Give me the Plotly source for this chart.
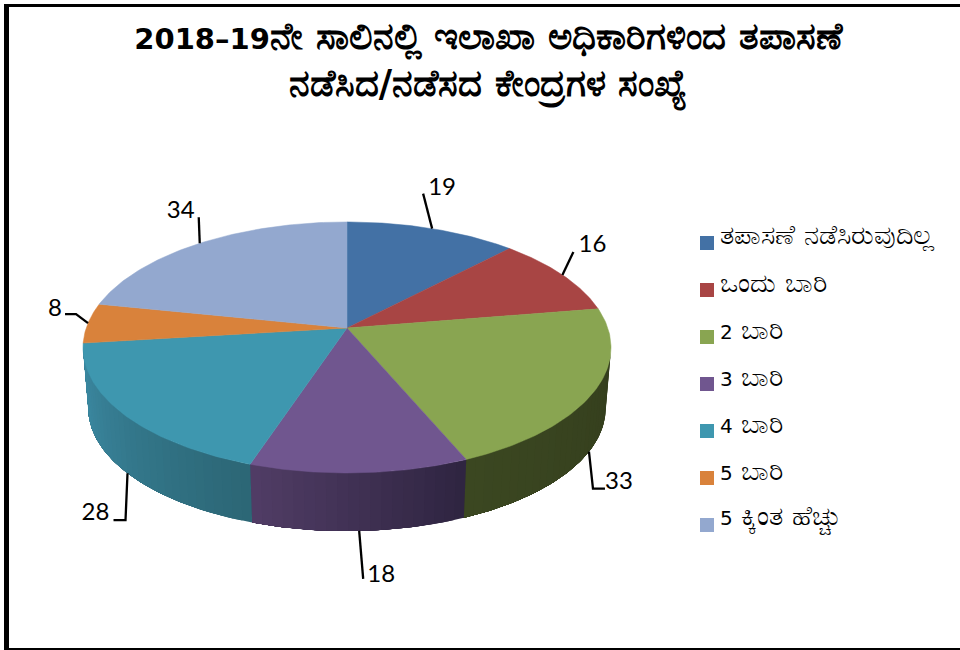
import re
import numpy as np
import plotly.graph_objects as go

# ---- data ----
categories = ["ತಪಾಸಣೆ ನಡೆಸಿರುವುದಿಲ್ಲ", "ಒಂದು ಬಾರಿ", "2 ಬಾರಿ", "3 ಬಾರಿ", "4 ಬಾರಿ", "5 ಬಾರಿ", "5 ಕ್ಕಿಂತ ಹೆಚ್ಚು"]
values = [19, 16, 33, 18, 28, 8, 34]
title_lines = ["2018–19ನೇ ಸಾಲಿನಲ್ಲಿ ಇಲಾಖಾ ಅಧಿಕಾರಿಗಳಿಂದ ತಪಾಸಣೆ", "ನಡೆಸಿದ/ನಡೆಸದ ಕೇಂದ್ರಗಳ ಸಂಖ್ಯೆ"]

# ---- style ----
top_colors = ["#4371a5", "#a84544", "#89a551", "#70568f", "#3e97af", "#d9823b", "#93a8cf"]
wall_colors = {2: ("#3b4721", "#343e1d"), 3: ("#513d66", "#2e2440"), 4: ("#3c8ba4", "#2c6675")}
FONT = "DejaVu Sans, Noto Sans, sans-serif"
LABEL_FONT = "Lato, Carlito, sans-serif"

# projection of the tilted disc onto the page (in page pixels)
CX, CY, A, B, P = 347, 328, 260.8, 122.5, -0.155
WALL_SCALE, WALL_DY = 0.98, 61


def rim(theta_deg, wall=False, r=1.0):
    t = np.radians(np.asarray(theta_deg, dtype=float))
    xd, yd = r * np.sin(t), -r * np.cos(t)
    d = 1 + P * yd
    X, Y = A * xd / d, B * yd / d
    if wall:
        return CX + X * WALL_SCALE, CY + Y * WALL_SCALE + WALL_DY
    return CX + X, CY + Y


def lerp_color(c1, c2, f):
    a = [int(c1[i:i + 2], 16) for i in (1, 3, 5)]
    b = [int(c2[i:i + 2], 16) for i in (1, 3, 5)]
    return "rgb(%d,%d,%d)" % tuple(round(u + (v - u) * f) for u, v in zip(a, b))


def small_digits(text, px):
    """The reference's digits are low and wide: set them smaller than the Kannada."""
    return re.sub(r"[0-9–]+", lambda m: f'<span style="font-size:{px}px">{m.group(0)}</span>', text)


total = sum(values)
edges = np.cumsum([0] + values) / total * 360
WALL_FROM, WALL_TO = 99, 261

fig = go.Figure()

# side walls: overlapping strips painted in order, so no seams show
for i in wall_colors:
    a0, a1 = max(edges[i], WALL_FROM), min(edges[i + 1], WALL_TO)
    n = max(2, int((a1 - a0) / 2))
    steps = np.linspace(a0, a1, n + 1)
    for k in range(n):
        th = np.linspace(steps[k], a1, max(4, 3 * (n - k)))
        xt, yt = rim(th)
        xb, yb = rim(th[::-1], wall=True)
        col = lerp_color(wall_colors[i][1], wall_colors[i][0], (k + 0.5) / n)
        fig.add_trace(go.Scatter(
            x=np.r_[xt, xb], y=np.r_[yt, yb], mode="lines", fill="toself",
            fillcolor=col, line=dict(color=col, width=0),
            hoverinfo="skip", showlegend=False))

# top faces
for i, name in enumerate(categories):
    th = np.linspace(edges[i], edges[i + 1], 80)
    xr, yr = rim(th)
    fig.add_trace(go.Scatter(
        x=np.r_[CX, xr, CX], y=np.r_[CY, yr, CY], mode="lines", fill="toself",
        fillcolor=top_colors[i], line=dict(color=top_colors[i], width=0.5),
        name=name, text=f"{name}: {values[i]}", hoverinfo="text", showlegend=False))

# leaders and data labels: offsets from the slice's rim anchor
on_wall = [False, False, True, True, True, False, False]
leader_offsets = [
    [(-9, -35)], [(11, -23)], [(4, 37), (16, 37)], [(4, 48)],
    [(-2, 47), (-14, 47)], [(-12, -9), (-23, -9)], [(-1, -26)],
]
label_offsets = [(10, -40), (30, -29), (30, 31), (22, 45), (-32, 41), (-33, -13), (-19, -31)]
mids = (edges[:-1] + edges[1:]) / 2
for i, v in enumerate(values):
    ax, ay = rim(mids[i], wall=on_wall[i])
    ax, ay = float(ax), float(ay)
    xs = [ax] + [ax + o[0] for o in leader_offsets[i]]
    ys = [ay] + [ay + o[1] for o in leader_offsets[i]]
    fig.add_trace(go.Scatter(x=xs, y=ys, mode="lines", line=dict(color="black", width=2.3),
                             hoverinfo="skip", showlegend=False))
    fig.add_trace(go.Scatter(x=[ax + label_offsets[i][0]], y=[ay + label_offsets[i][1]], mode="text",
                             text=[str(v)], textposition="middle center",
                             textfont=dict(family=LABEL_FONT, size=24, color="black"),
                             hoverinfo="skip", showlegend=False))

# legend column: a swatch and its text for each category
LEG_SWATCH_X, LEG_TEXT_X, LEG_Y0, LEG_STEP, LEG_TEXT_DY = 707, 720, 243, 47, -8
for i, name in enumerate(categories):
    y = LEG_Y0 + i * LEG_STEP
    fig.add_trace(go.Scatter(x=[LEG_SWATCH_X], y=[y], mode="markers", name=name,
                             marker=dict(symbol="square", size=14, color=top_colors[i], line_width=0),
                             hovertext=name, hoverinfo="text", showlegend=False))
    fig.add_annotation(x=LEG_TEXT_X, y=y + LEG_TEXT_DY, text=small_digits(name, 20), showarrow=False,
                       xanchor="left", yanchor="middle", xshift=-2,
                       font=dict(family=FONT, size=27, color="black"))

frame = dict(type="rect", xref="paper", yref="paper", line_width=0, fillcolor="black", layer="above")
fig.update_layout(
    width=960, height=650, margin=dict(l=0, r=0, t=0, b=0),
    paper_bgcolor="white", plot_bgcolor="white", showlegend=False,
    xaxis=dict(range=[0, 960], visible=False, fixedrange=True),
    yaxis=dict(range=[650, 0], visible=False, fixedrange=True),
    title=dict(text="<br>".join(small_digits(t, 29) for t in title_lines), x=488 / 960, xanchor="center",
               y=1 - 49 / 650, yanchor="top",
               font=dict(family=FONT, size=36.5, color="black", weight="bold")),
    shapes=[
        dict(frame, x0=4 / 960, x1=9 / 960, y0=0, y1=646 / 650),
        dict(frame, x0=4 / 960, x1=1, y0=1 - 7 / 650, y1=1 - 4 / 650),
        dict(frame, x0=4 / 960, x1=1, y0=0, y1=2 / 650),
    ],
)

fig.write_html("out.html", config={"displayModeBar": False},
               post_script="document.body.style.margin='0';document.body.style.overflow='hidden';")
